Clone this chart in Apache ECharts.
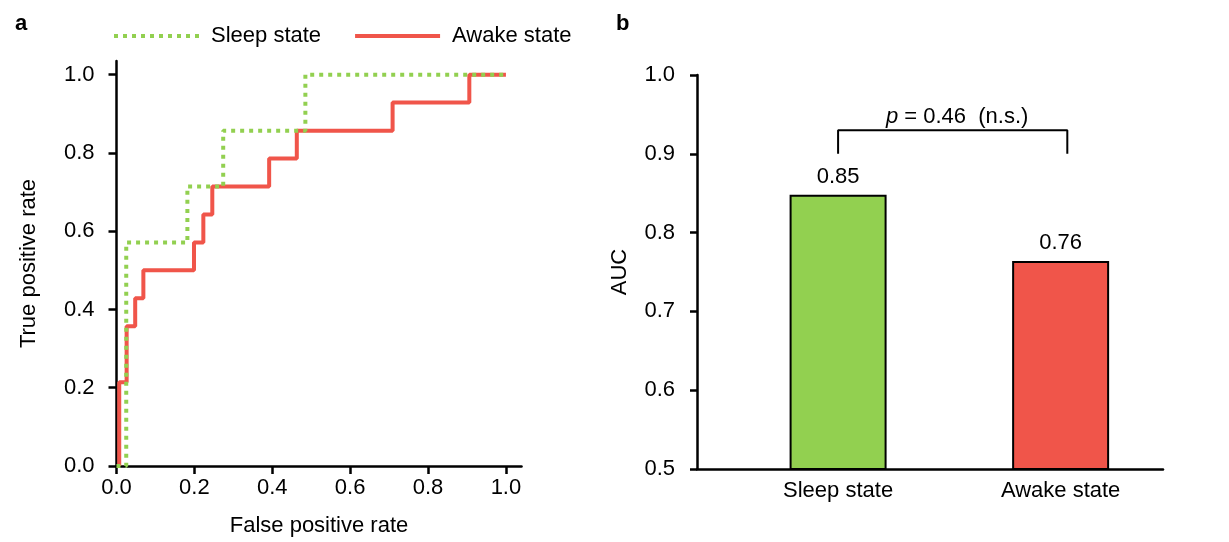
<!DOCTYPE html>
<html>
<head>
<meta charset="utf-8">
<script src="https://cdn.jsdelivr.net/npm/echarts@6/dist/echarts.min.js"></script>
<style>
html,body{margin:0;padding:0;background:#fff;}
#chart{width:1229px;height:542px;}
</style>
</head>
<body>
<div id="chart"></div>
<script>
// ---------- Data ----------
// Panel a: ROC curves (threshold points, drawn as steps)
const sleepFpr = [0, 0.025, 0.182, 0.274, 0.485, 1.0];
const sleepTpr = [0, 0.571, 0.714, 0.857, 1.0, 1.0];
const awakeFpr = [0.007, 0.007, 0.026, 0.048, 0.069, 0.199, 0.223, 0.246, 0.392, 0.463, 0.709, 0.906, 1.0];
const awakeTpr = [0, 0.214, 0.357, 0.429, 0.5, 0.571, 0.643, 0.714, 0.786, 0.857, 0.929, 1.0, 1.0];
const rocTicks = [0, 0.2, 0.4, 0.6, 0.8, 1.0];

// Panel b: AUC bars
const categories = ['Sleep state', 'Awake state'];
const aucValues = [0.848, 0.764];
const pText = '0.46';
const bracketLeft = 1.0, bracketRight = 2.03, bracketTop = 0.93, bracketBase = 0.9;

const GREEN = '#92D050';
const RED = '#F0554A';
const FONT = 'Liberation Sans, Arial, Helvetica, sans-serif';
const TXT = '#000';

const zip = (a, b) => a.map((v, i) => [v, b[i]]);

const chart = echarts.init(document.getElementById('chart'), null, {renderer: 'canvas'});

const axisLineStyle = {color: '#000', width: 2.5};

const option = {
  backgroundColor: '#fff',
  animation: false,
  textStyle: {fontFamily: FONT},
  legend: {
    data: ['Sleep state', 'Awake state'],
    left: 107,
    top: 20,
    itemWidth: 85,
    itemHeight: 22,
    itemGap: 32,
    itemStyle: {opacity: 0},
    lineStyle: {width: 4},
    textStyle: {fontSize: 22, color: TXT, fontFamily: FONT, padding: [0, 0, 0, 7]}
  },
  title: [
    {text: 'a', left: 10, top: 8, textStyle: {fontSize: 22, fontWeight: 'bold', color: '#000', fontFamily: FONT}},
    {text: 'b', left: 611, top: 8, textStyle: {fontSize: 22, fontWeight: 'bold', color: '#000', fontFamily: FONT}}
  ],
  grid: [
    {left: 116.5, top: 61, width: 405, height: 405.7},
    {left: 697, top: 75, width: 466, height: 394}
  ],
  xAxis: [
    {
      gridIndex: 0, type: 'value', min: 0, max: 1.04,
      name: 'False positive rate', nameLocation: 'middle', nameGap: 49,
      nameTextStyle: {fontSize: 22, color: TXT, fontFamily: FONT},
      axisLine: {onZero: false, lineStyle: axisLineStyle},
      axisTick: {show: true, length: 8, lineStyle: {color: '#000', width: 2.5}, customValues: rocTicks},
      axisLabel: {fontSize: 22, color: TXT, margin: 11, customValues: rocTicks, formatter: v => v.toFixed(1)},
      splitLine: {show: false}
    },
    {
      gridIndex: 1, type: 'value', min: 0.366, max: 2.46,
      axisLine: {onZero: false, lineStyle: axisLineStyle},
      axisTick: {show: false},
      axisLabel: {fontSize: 22, color: TXT, margin: 11, customValues: [1, 2], formatter: v => categories[Math.round(v) - 1]},
      splitLine: {show: false}
    }
  ],
  yAxis: [
    {
      gridIndex: 0, type: 'value', min: 0, max: 1.035,
      name: 'True positive rate', nameLocation: 'middle', nameGap: 77,
      nameTextStyle: {fontSize: 22, color: TXT, fontFamily: FONT},
      axisLine: {onZero: false, lineStyle: axisLineStyle},
      axisTick: {show: true, length: 8, lineStyle: {color: '#000', width: 2.5}, customValues: rocTicks},
      axisLabel: {fontSize: 22, color: TXT, margin: 22, customValues: rocTicks, formatter: v => v.toFixed(1)},
      splitLine: {show: false}
    },
    {
      gridIndex: 1, type: 'value', min: 0.5, max: 1.0, interval: 0.1,
      name: 'AUC', nameLocation: 'middle', nameGap: 66,
      nameTextStyle: {fontSize: 22, color: TXT, fontFamily: FONT},
      axisLine: {onZero: false, lineStyle: axisLineStyle},
      axisTick: {show: true, length: 7, lineStyle: {color: '#000', width: 2.5}},
      axisLabel: {fontSize: 22, color: TXT, margin: 22, formatter: v => v.toFixed(1)},
      splitLine: {show: false}
    }
  ],
  series: [
    {
      name: 'Sleep state', type: 'line', xAxisIndex: 0, yAxisIndex: 0,
      data: zip(sleepFpr, sleepTpr), step: 'end', symbol: 'none', z: 4,
      lineStyle: {color: GREEN, width: 4, type: [4, 5], cap: 'butt'},
      itemStyle: {color: GREEN}
    },
    {
      name: 'Awake state', type: 'line', xAxisIndex: 0, yAxisIndex: 0,
      data: zip(awakeFpr, awakeTpr), step: 'end', symbol: 'none', z: 3,
      lineStyle: {color: RED, width: 4},
      itemStyle: {color: RED}
    },
    {
      name: 'AUC', type: 'bar', xAxisIndex: 1, yAxisIndex: 1,
      barWidth: 97,
      data: aucValues.map((v, i) => ({
        value: [i + 1, v],
        itemStyle: {color: i === 0 ? GREEN : RED, borderColor: '#000', borderWidth: 2}
      })),
      label: {show: true, position: 'top', distance: 7, fontSize: 22, color: TXT, fontFamily: FONT,
              formatter: p => p.value[1].toFixed(2)},
      z: 2
    },
    {
      name: 'bracket', type: 'line', xAxisIndex: 1, yAxisIndex: 1,
      data: [[bracketLeft, bracketBase], [bracketLeft, bracketTop], [bracketRight, bracketTop], [bracketRight, bracketBase]],
      symbol: 'none', silent: true,
      lineStyle: {color: '#000', width: 2}
    },
    {
      name: 'ptext', type: 'scatter', xAxisIndex: 1, yAxisIndex: 1,
      data: [[(bracketLeft + bracketRight) / 2 + 0.02, bracketTop]],
      symbolSize: 0, silent: true,
      itemStyle: {opacity: 1, color: 'rgba(0,0,0,0)'},
      label: {
        show: true, position: 'top', distance: 2,
        formatter: '{i|p}{n| = ' + pText + '  (n.s.)}',
        fontSize: 22, color: TXT, fontFamily: FONT,
        rich: {
          i: {fontStyle: 'italic', fontSize: 22, color: TXT, fontFamily: FONT},
          n: {fontSize: 22, color: TXT, fontFamily: FONT}
        }
      }
    }
  ]
};

chart.setOption(option);
</script>
</body>
</html>
